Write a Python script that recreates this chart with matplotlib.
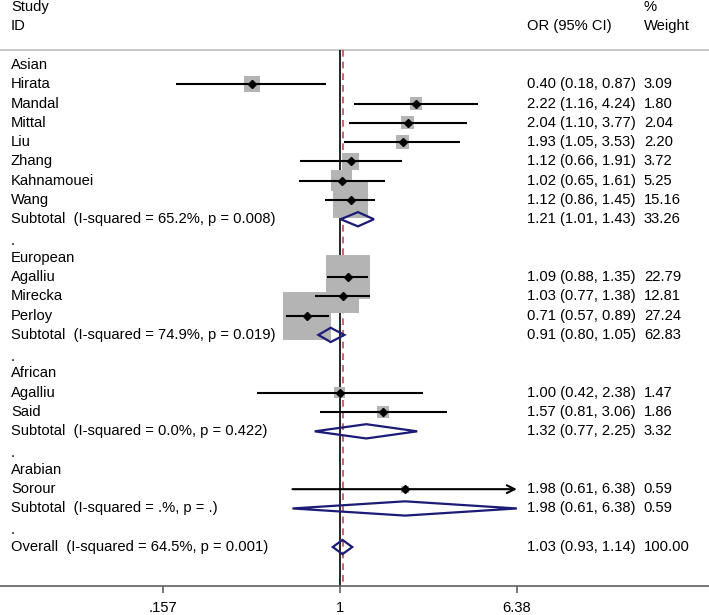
import numpy as np
import matplotlib
matplotlib.use("Agg")
from matplotlib import pyplot as plt
from matplotlib.patches import Polygon
import matplotlib.transforms as mtransforms

plt.rcParams['font.family'] = ['Liberation Sans', 'DejaVu Sans']

# study level data
group_names = ["Asian", "European", "African", "Arabian"]
study_names = ["Hirata", "Mandal", "Mittal", "Liu", "Zhang", "Kahnamouei", "Wang",
               "Agalliu", "Mirecka", "Perloy",
               "Agalliu", "Said",
               "Sorour"]
study_group = [0, 0, 0, 0, 0, 0, 0, 1, 1, 1, 2, 2, 3]
or_est = [0.40, 2.22, 2.04, 1.93, 1.12, 1.02, 1.12, 1.09, 1.03, 0.71, 1.00, 1.57, 1.98]
ci_lo = [0.18, 1.16, 1.10, 1.05, 0.66, 0.65, 0.86, 0.88, 0.77, 0.57, 0.42, 0.81, 0.61]
ci_hi = [0.87, 4.24, 3.77, 3.53, 1.91, 1.61, 1.45, 1.35, 1.38, 0.89, 2.38, 3.06, 6.38]
weights = [3.09, 1.80, 2.04, 2.20, 3.72, 5.25, 15.16, 22.79, 12.81, 27.24, 1.47, 1.86, 0.59]

# subgroup pooled results
sub_i2 = ["65.2%", "74.9%", "0.0%", ".%"]
sub_p = ["0.008", "0.019", "0.422", "."]
sub_or = [1.21, 0.91, 1.32, 1.98]
sub_lo = [1.01, 0.80, 0.77, 0.61]
sub_hi = [1.43, 1.05, 2.25, 6.38]
sub_w = [33.26, 62.83, 3.32, 0.59]

# overall
overall_i2 = "64.5%"
overall_p = "0.001"
overall_or = 1.03
overall_lo = 0.93
overall_hi = 1.14
overall_w = 100.00

tick_vals = [0.157, 1, 6.38]
tick_labels = [".157", "1", "6.38"]

x_max_axis = 6.38
FS = 10.6
DIAMOND_C = "#1b1b78"
BOX_C = "#b4b4b4"

fig = plt.figure(figsize=(7.09, 6.15), dpi=100)
ax = fig.add_axes([0, 0.0472, 1, 0.9528])
ax.set_xscale("log")
ax.set_xlim(0.02863, 47.6)
ax.set_ylim(27.02, -3.37)

trans = mtransforms.blended_transform_factory(ax.transAxes, ax.transData)
x_lab, x_or, x_w = 0.0155, 0.743, 0.908


def fmt_ci(e, lo, hi):
    return f"{e:.2f} ({lo:.2f}, {hi:.2f})"


row = 0
study_rows = []
sub_rows = []
for g, gname in enumerate(group_names):
    ax.text(x_lab, row, gname, transform=trans, va="center", fontsize=FS)
    row += 1
    for i, sg in enumerate(study_group):
        if sg != g:
            continue
        ax.text(x_lab, row, study_names[i], transform=trans, va="center", fontsize=FS)
        ax.text(x_or, row, fmt_ci(or_est[i], ci_lo[i], ci_hi[i]), transform=trans,
                va="center", fontsize=FS)
        ax.text(x_w, row, f"{weights[i]:.2f}", transform=trans, va="center", fontsize=FS)
        study_rows.append(row)
        row += 1
    ax.text(x_lab, row, f"Subtotal  (I-squared = {sub_i2[g]}, p = {sub_p[g]})",
            transform=trans, va="center", fontsize=FS)
    ax.text(x_or, row, fmt_ci(sub_or[g], sub_lo[g], sub_hi[g]), transform=trans,
            va="center", fontsize=FS)
    ax.text(x_w, row, f"{sub_w[g]:.2f}", transform=trans, va="center", fontsize=FS)
    sub_rows.append(row)
    row += 1
    ax.text(x_lab, row + 0.12, ".", transform=trans, va="center", fontsize=FS)
    row += 1
overall_row = row
ax.text(x_lab, overall_row, f"Overall  (I-squared = {overall_i2}, p = {overall_p})",
        transform=trans, va="center", fontsize=FS)
ax.text(x_or, overall_row, fmt_ci(overall_or, overall_lo, overall_hi), transform=trans,
        va="center", fontsize=FS)
ax.text(x_w, overall_row, f"{overall_w:.2f}", transform=trans, va="center", fontsize=FS)

# headers
ax.text(x_lab, -3.01, "Study", transform=trans, va="center", fontsize=FS)
ax.text(x_lab, -2.02, "ID", transform=trans, va="center", fontsize=FS)
ax.text(x_or, -2.02, "OR (95% CI)", transform=trans, va="center", fontsize=FS)
ax.text(x_w, -3.01, "%", transform=trans, va="center", fontsize=FS)
ax.text(x_w, -2.02, "Weight", transform=trans, va="center", fontsize=FS)

# top rule
ax.axhline(-0.78, color="#bdbdbd", lw=1.2, zorder=1)

# reference lines
ax.vlines(1, -0.78, 27.02, color="black", lw=1.2, zorder=1)
ax.vlines(overall_or, -0.78, 27.02, color="#c8465a", lw=1.2, linestyles=(0, (4, 3)), zorder=1)

# weight boxes
sizes = [43.85 * w for w in weights]
ax.scatter(or_est, study_rows, s=sizes, marker="s", color=BOX_C, linewidths=0, zorder=2)

# confidence intervals
for i, r in enumerate(study_rows):
    if ci_hi[i] >= x_max_axis:
        ax.annotate("", xy=(x_max_axis, r), xytext=(ci_lo[i], r),
                    arrowprops=dict(arrowstyle="->", lw=1.5, color="black",
                                    mutation_scale=14, shrinkA=0, shrinkB=0),
                    zorder=3)
    else:
        ax.plot([ci_lo[i], ci_hi[i]], [r, r], color="black", lw=1.5, zorder=3,
                solid_capstyle="butt")
ax.plot(or_est, study_rows, linestyle="none", marker="D", markersize=4.5,
        color="black", zorder=4)

# diamonds
h = 0.37
for e, lo, hi, r in zip(sub_or + [overall_or], sub_lo + [overall_lo],
                        sub_hi + [overall_hi], sub_rows + [overall_row]):
    poly = Polygon([(lo, r), (e, r - h), (hi, r), (e, r + h)], closed=True,
                   fill=False, edgecolor=DIAMOND_C, lw=1.6, zorder=5)
    ax.add_patch(poly)

# axis styling
for side in ["top", "left", "right"]:
    ax.spines[side].set_visible(False)
ax.spines["bottom"].set_color("#606060")
ax.spines["bottom"].set_linewidth(1.2)
ax.set_yticks([])
ax.set_xticks(tick_vals)
ax.set_xticklabels(tick_labels, fontsize=FS)
ax.xaxis.set_minor_locator(matplotlib.ticker.NullLocator())
ax.tick_params(axis="x", direction="out", length=5, width=1.2, color="#606060", pad=6)

fig.savefig("out.png", dpi=100)
